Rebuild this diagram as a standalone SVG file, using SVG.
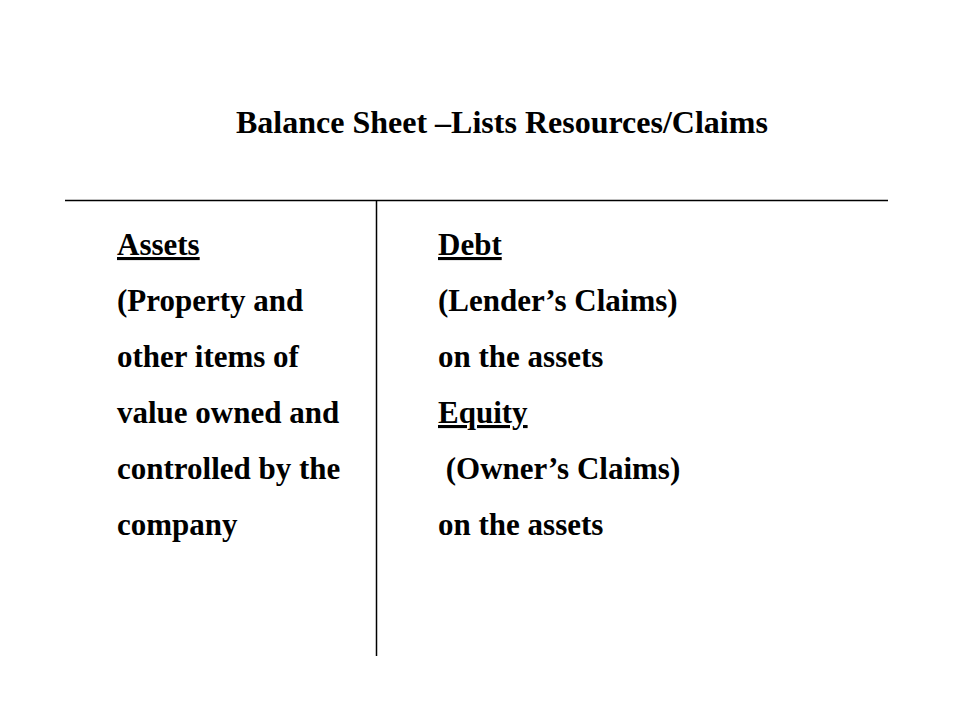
<svg xmlns="http://www.w3.org/2000/svg" width="960" height="720" viewBox="0 0 960 720">
<style>
text{font-family:"Liberation Serif","Times New Roman",serif;font-weight:bold;fill:#000}
.t{font-size:32px}
.b{font-size:31px}
.u{text-decoration:underline}
line{stroke:#000;stroke-width:1.5}
</style>
<rect width="960" height="720" fill="#fff"/>
<text id="title" class="t" x="236" y="133">Balance Sheet –Lists Resources/Claims</text>
<g id="connectors">
<line x1="65" y1="200.5" x2="888" y2="200.5"/>
<line x1="376.5" y1="200" x2="376.5" y2="656"/>
</g>
<g id="assets">
<text class="b u" x="117" y="255">Assets</text>
<text class="b" x="117" y="311">(Property and</text>
<text class="b" x="117" y="367">other items of</text>
<text class="b" x="117" y="423">value owned and</text>
<text class="b" x="117" y="479">controlled by the</text>
<text class="b" x="117" y="535">company</text>
</g>
<g id="claims">
<text class="b u" x="438" y="255">Debt</text>
<text class="b" x="438" y="311">(Lender’s Claims)</text>
<text class="b" x="438" y="367">on the assets</text>
<text class="b u" x="438" y="423">Equity</text>
<text class="b" x="438" y="479" xml:space="preserve"> (Owner’s Claims)</text>
<text class="b" x="438" y="535">on the assets</text>
</g>
</svg>
